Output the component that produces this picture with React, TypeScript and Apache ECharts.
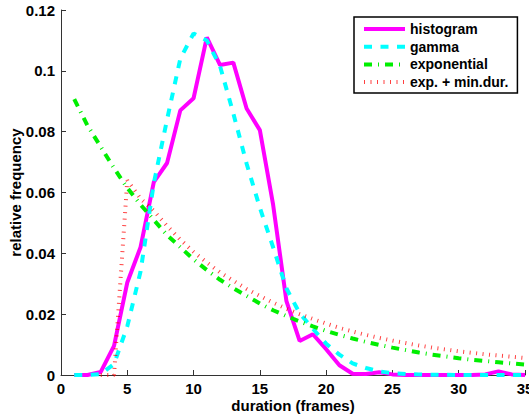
import React, { useEffect, useRef } from "react";
import * as echarts from "echarts";

const durations = [1, 2, 3, 4, 5, 6, 7, 8, 9, 10, 11, 12, 13, 14, 15, 16, 17, 18, 19, 20, 21, 22, 23, 24, 25, 26, 27, 28, 29, 30, 31, 32, 33, 34, 35];

const histogram = [0, 0, 0.001, 0.0096, 0.0304, 0.042, 0.0634, 0.0697, 0.087, 0.091, 0.111, 0.1019, 0.1027, 0.0876, 0.0805, 0.056, 0.0244, 0.0112, 0.0134, 0.0085, 0.0032, 0.0004, 0.0003, 0.0009, 0.0002, 0, 0, 0, 0, 0, 0, 0.0002, 0.0012, 0.0002, 0];

const gamma = [0, 0, 0.0003, 0.0036, 0.016, 0.034, 0.063, 0.084, 0.104, 0.1123, 0.11, 0.1015, 0.086, 0.0695, 0.055, 0.042, 0.0285, 0.0203, 0.0152, 0.0103, 0.0067, 0.0038, 0.0023, 0.0012, 0.0006, 0.0003, 0.0002, 0.0001, 0.0001, 0, 0, 0, 0, 0, 0];

const exponential = [0.0907, 0.082, 0.075, 0.068, 0.0615, 0.056, 0.051, 0.046, 0.042, 0.038, 0.0345, 0.0313, 0.0285, 0.026, 0.0235, 0.0213, 0.0194, 0.0176, 0.016, 0.0145, 0.0132, 0.012, 0.0109, 0.0099, 0.009, 0.0082, 0.0074, 0.0067, 0.0061, 0.0055, 0.005, 0.0046, 0.0042, 0.0038, 0.0034];

const minDurX = [3, 4, 5, 6, 7, 8, 9, 10, 11, 12, 13, 14, 15, 16, 17, 18, 19, 20, 21, 22, 23, 24, 25, 26, 27, 28, 29, 30, 31, 32, 33, 34, 35];
const expMinDur = [0, 0, 0.064, 0.058, 0.054, 0.049, 0.0445, 0.0405, 0.037, 0.0337, 0.031, 0.0283, 0.026, 0.0238, 0.0218, 0.02, 0.0184, 0.0169, 0.0155, 0.0143, 0.0132, 0.0122, 0.0113, 0.0105, 0.0097, 0.009, 0.0084, 0.0078, 0.0073, 0.0068, 0.0064, 0.006, 0.0056];

const seriesNames = ["histogram", "gamma", "exponential", "exp. + min.dur."];
const xTitle = "duration (frames)";
const yTitle = "relative frequency";

const FONT = "'Liberation Sans', Arial, Helvetica, sans-serif";

function pairs(xs: number[], ys: number[]) {
  return xs.map((x, i) => [x, ys[i]]);
}

export default function App() {
  const ref = useRef<HTMLDivElement>(null);
  useEffect(() => {
    if (!ref.current) return;
    const chart = echarts.init(ref.current, undefined, { renderer: "svg" });
    const axisLine = { show: true, lineStyle: { color: "#333", width: 1 } };
    const label = { color: "#000", fontFamily: FONT, fontWeight: "bold" as const, fontSize: 15 };
    chart.setOption({
      animation: false,
      backgroundColor: "#fff",
      grid: { left: 61, top: 10, right: 4, bottom: 41, containLabel: false, outerBoundsMode: "none" },
      legend: {
        left: 354,
        top: 17,
        orient: "vertical",
        itemWidth: 41,
        itemHeight: 14,
        itemGap: 3.7,
        padding: [5, 9, 4, 8],
        borderColor: "#000",
        borderWidth: 1.5,
        backgroundColor: "#fff",
        textStyle: { ...label, fontSize: 14 },
        itemStyle: { color: "rgba(0,0,0,0)", borderWidth: 0, opacity: 0 },
        lineStyle: { width: 4 },
        data: seriesNames,
      },
      xAxis: {
        type: "value",
        min: 0,
        max: 35,
        interval: 5,
        name: xTitle,
        nameLocation: "middle",
        nameGap: 23,
        nameMoveOverlap: false,
        nameTextStyle: label,
        axisLine,
        axisTick: { show: true, inside: true, length: 5, lineStyle: { color: "#333" } },
        axisLabel: { ...label, margin: 6 },
        splitLine: { show: false },
      },
      yAxis: {
        type: "value",
        min: 0,
        max: 0.12,
        interval: 0.02,
        name: yTitle,
        nameLocation: "middle",
        nameGap: 38,
        nameMoveOverlap: false,
        nameTextStyle: label,
        axisLine,
        axisTick: { show: true, inside: true, length: 5, lineStyle: { color: "#333" } },
        axisLabel: { ...label, margin: 6 },
        splitLine: { show: false },
      },
      series: [
        {
          name: seriesNames[0],
          type: "line",
          symbol: "none",
          data: pairs(durations, histogram),
          lineStyle: { color: "#ff00ff", width: 4, type: "solid" },
          itemStyle: { color: "#ff00ff" },
        },
        {
          name: seriesNames[1],
          type: "line",
          symbol: "none",
          data: pairs(durations, gamma),
          lineStyle: { color: "#00ffff", width: 4, type: [8, 8.5], cap: "butt" },
          itemStyle: { color: "#00ffff" },
        },
        {
          name: seriesNames[2],
          type: "line",
          symbol: "none",
          data: pairs(durations, exponential),
          lineStyle: { color: "#00ee00", width: 4, type: [8, 6, 1, 6], cap: "butt" },
          itemStyle: { color: "#00ee00" },
        },
        {
          name: seriesNames[3],
          type: "line",
          symbol: "none",
          data: pairs(minDurX, expMinDur),
          lineStyle: { color: "#ff0000", width: 4, type: [1, 5.5], cap: "butt", opacity: 0.75 },
          itemStyle: { color: "#ff0000" },
        },
      ],
    });
    return () => chart.dispose();
  }, []);
  return <div ref={ref} style={{ width: 529, height: 416, position: "absolute", left: 0, top: 0 }} />;
}
